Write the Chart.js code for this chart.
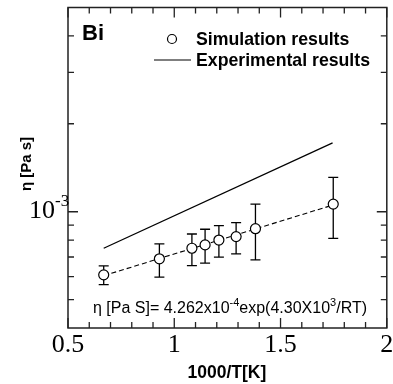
<!DOCTYPE html>
<html>
<head>
<meta charset="utf-8">
<script src="https://cdn.jsdelivr.net/npm/chart.js@4"></script>
<style>
  body { margin: 0; background: #fff; }
  #chart { display: block; }
</style>
</head>
<body>
<canvas id="chart" width="393" height="384"></canvas>
<script>
// simulation points (1000/T, viscosity) with error bar ends
const simX = [0.668, 0.930, 1.083, 1.145, 1.210, 1.291, 1.382, 1.748];
const simY = [6.08e-4, 6.90e-4, 7.50e-4, 7.70e-4, 8.00e-4, 8.22e-4, 8.75e-4, 1.062e-3];
const simHigh = [6.53e-4, 7.76e-4, 8.39e-4, 8.71e-4, 8.96e-4, 9.17e-4, 1.062e-3, 1.31e-3];
const simLow = [5.63e-4, 5.97e-4, 6.54e-4, 6.67e-4, 6.99e-4, 7.17e-4, 6.84e-4, 8.11e-4];

// dashed fit through simulation
const fitX = [0.668, 1.748];
const fitY = [6.04e-4, 1.055e-3];

// experimental line
const expX = [0.668, 1.745];
const expY = [7.50e-4, 1.72e-3];

const xMajorTicks = [0.5, 1, 1.5, 2];
const xTickLabels = ['0.5', '1', '1.5', '2'];
const xMinorTicks = [0.6, 0.7, 0.8, 0.9, 1.1, 1.2, 1.3, 1.4, 1.6, 1.7, 1.8, 1.9];
const yMajorTicks = [1e-3];
const yMinorTicks = [5e-4, 6e-4, 7e-4, 8e-4, 9e-4, 2e-3, 3e-3, 4e-3];

const toPoints = (xs, ys) => xs.map((x, i) => ({ x: x, y: ys[i] }));

const SANS = '"Liberation Sans", Arial, sans-serif';
const SERIF = '"Liberation Serif", "Times New Roman", serif';

// draws text pieces one after another, some raised as superscripts
function drawRun(ctx, parts, x, y) {
    let cx = x;
    parts.forEach(p => {
        ctx.font = p.font;
        ctx.fillText(p.text, cx, y - (p.up || 0));
        cx += ctx.measureText(p.text).width;
    });
}

const decorPlugin = {
    id: 'decor',
    beforeDatasetsDraw(chart) {
        const ctx = chart.ctx;
        const xs = chart.scales.x, ys = chart.scales.y;
        ctx.save();
        ctx.strokeStyle = '#000';
        ctx.lineWidth = 1.3;
        simX.forEach((v, i) => {
            const px = xs.getPixelForValue(v);
            const top = ys.getPixelForValue(simHigh[i]);
            const bot = ys.getPixelForValue(simLow[i]);
            ctx.beginPath();
            ctx.moveTo(px, top); ctx.lineTo(px, bot);
            ctx.moveTo(px - 5, top); ctx.lineTo(px + 5, top);
            ctx.moveTo(px - 5, bot); ctx.lineTo(px + 5, bot);
            ctx.stroke();
        });
        ctx.restore();
    },
    afterDraw(chart) {
        const ctx = chart.ctx;
        const a = chart.chartArea;
        const xs = chart.scales.x, ys = chart.scales.y;
        ctx.save();
        ctx.strokeStyle = '#222';
        ctx.lineWidth = 1.5;
        ctx.strokeRect(a.left, a.top, a.right - a.left, a.bottom - a.top);

        // inward ticks on all four sides
        ctx.lineWidth = 1.3;
        ctx.beginPath();
        const xTick = (v, len) => {
            const px = xs.getPixelForValue(v);
            ctx.moveTo(px, a.bottom); ctx.lineTo(px, a.bottom - len);
            ctx.moveTo(px, a.top); ctx.lineTo(px, a.top + len);
        };
        const yTick = (v, len) => {
            const py = ys.getPixelForValue(v);
            ctx.moveTo(a.left, py); ctx.lineTo(a.left + len, py);
            ctx.moveTo(a.right, py); ctx.lineTo(a.right - len, py);
        };
        xMajorTicks.forEach(v => xTick(v, 10));
        xMinorTicks.forEach(v => xTick(v, 6));
        yMajorTicks.forEach(v => yTick(v, 10));
        yMinorTicks.forEach(v => yTick(v, 6));
        ctx.stroke();

        ctx.fillStyle = '#000';
        // x tick labels
        ctx.font = '26px ' + SERIF;
        ctx.textAlign = 'center';
        ctx.textBaseline = 'alphabetic';
        xMajorTicks.forEach((v, i) => {
            ctx.fillText(xTickLabels[i], xs.getPixelForValue(v), 351.5);
        });

        // y tick label 10^-3
        ctx.textAlign = 'left';
        const py = ys.getPixelForValue(yMajorTicks[0]);
        drawRun(ctx, [
            { text: '10', font: '26px ' + SERIF },
            { text: '-3', font: '17px ' + SERIF, up: 12 }
        ], 29, py + 6.5);

        // axis titles
        ctx.font = 'bold 17.5px ' + SANS;
        ctx.textAlign = 'center';
        ctx.fillText('1000/T[K]', (a.left + a.right) / 2 - 0.5, 378);

        ctx.save();
        ctx.translate(31, 164);
        ctx.rotate(-Math.PI / 2);
        ctx.font = 'bold 15px ' + SANS;
        ctx.textBaseline = 'alphabetic';
        ctx.fillText('η [Pa s]', 0, 0);
        ctx.restore();

        // panel label
        ctx.textAlign = 'left';
        ctx.font = 'bold 22px ' + SANS;
        ctx.fillText('Bi', 82, 40);

        // legend
        ctx.font = 'bold 17.7px ' + SANS;
        ctx.fillText('Simulation results', 196, 45);
        ctx.fillText('Experimental results', 196, 65.5);
        ctx.beginPath();
        ctx.arc(172, 39, 4.5, 0, Math.PI * 2);
        ctx.fillStyle = '#fff';
        ctx.fill();
        ctx.lineWidth = 1.2;
        ctx.strokeStyle = '#000';
        ctx.stroke();
        ctx.beginPath();
        ctx.moveTo(154, 60); ctx.lineTo(191, 60);
        ctx.stroke();

        // fitted relation
        ctx.fillStyle = '#000';
        drawRun(ctx, [
            { text: 'η [Pa S]= 4.262x10', font: '16px ' + SANS },
            { text: '-4', font: '11px ' + SANS, up: 7 },
            { text: 'exp(4.30X10', font: '16px ' + SANS },
            { text: '3', font: '11px ' + SANS, up: 7 },
            { text: '/RT)', font: '16px ' + SANS }
        ], 93, 313);
        ctx.restore();
    }
};

new Chart(document.getElementById('chart').getContext('2d'), {
    type: 'scatter',
    data: {
        datasets: [
            {
                label: 'Simulation results',
                data: toPoints(simX, simY),
                pointStyle: 'circle',
                pointRadius: 5,
                backgroundColor: '#fff',
                borderColor: '#000',
                borderWidth: 1.2,
                showLine: false
            },
            {
                label: 'fit',
                data: toPoints(fitX, fitY),
                showLine: true,
                borderColor: '#000',
                borderWidth: 1.1,
                borderDash: [5, 3],
                pointRadius: 0
            },
            {
                label: 'Experimental results',
                data: toPoints(expX, expY),
                showLine: true,
                borderColor: '#000',
                borderWidth: 1.3,
                pointRadius: 0
            }
        ]
    },
    options: {
        responsive: false,
        animation: false,
        layout: { padding: { left: 68, right: 4, top: 7.5, bottom: 56 } },
        plugins: {
            legend: { display: false },
            tooltip: { enabled: false }
        },
        scales: {
            x: { type: 'linear', min: 0.5, max: 2, display: false },
            y: { type: 'logarithmic', min: 4e-4, max: 5e-3, display: false }
        }
    },
    plugins: [decorPlugin]
});
</script>
</body>
</html>
